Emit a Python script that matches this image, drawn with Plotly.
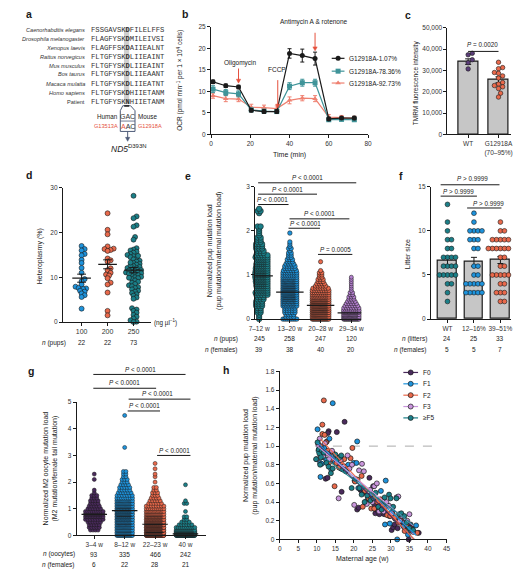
import numpy as np
import plotly.graph_objects as go

W, H = 529, 575
SANS = "Liberation Sans"
MONO = "Liberation Mono"
INK = "#1a1a1a"
TEAL = "#1b7f88"
BLUE = "#1e93dc"
SALMON = "#e9694b"
DPURP = "#4a2a5c"
LPURP = "#b47fcf"
H_F3 = "#c996dc"
RED = "#e5503d"
BOXC = "#4d5b78"
BARC = "#c6c6c6"

# ================= DATA =================
# a: ND5 alignment
a_species = ["Caenorhabditis elegans", "Drosophila melanogaster", "Xenopus laevis",
             "Rattus norvegicus", "Mus musculus", "Bos taurus", "Macaca mulatta",
             "Homo sapiens", "Patient"]
a_seq_left = ["FSSGAVSK", "FLAGFYSK", "FLAGFFSK", "FLTGFYSK", "FLTGFYSK",
              "FLTGFYSK", "FLTGFYSK", "FLTGFYSK", "FLTGFYSK"]
a_site = ["D", "D", "D", "D", "D", "D", "D", "D", "N"]
a_seq_right = ["FILELFFS", "MILEIVSI", "AIIEALNT", "LIIEAINT", "LIIEAINT",
               "LIIEAANT", "LIIEATNT", "HIIETANM", "HIIETANM"]

# b: Seahorse OCR
b_time = [1, 7.5, 14, 20.5, 27, 33.5, 40, 46.5, 53, 60, 66.5, 73]
b_names = ["G12918A-1.07%", "G12918A-78.36%", "G12918A-92.73%"]
b_low = [12.2, 11.3, 11.0, 5.6, 5.3, 5.3, 18.8, 18.3, 17.6, 3.6, 3.8, 3.8]
b_low_err = [0.4, 0.4, 0.4, 0.4, 0.4, 0.4, 1.1, 1.5, 1.5, 0.4, 0.3, 0.4]
b_mid = [10.5, 9.7, 9.4, 5.7, 5.4, 5.3, 11.2, 12.0, 12.0, 3.4, 3.5, 3.4]
b_mid_err = [0.8, 0.7, 0.7, 0.4, 0.4, 0.4, 0.8, 0.8, 0.8, 0.4, 0.4, 0.4]
b_high = [9.0, 8.3, 8.2, 6.3, 6.2, 6.0, 7.9, 8.4, 8.3, 4.0, 3.9, 3.7]
b_high_err = [0.6, 0.7, 0.6, 0.7, 0.6, 0.6, 0.8, 0.6, 0.7, 0.6, 0.5, 0.5]
b_injections = ["Oligomycin", "FCCP", "Antimycin A &amp; rotenone"]
b_inj_time = [14, 34, 53]

# c: TMRM
c_groups = ["WT", "G12918A<br>(70–95%)"]
c_mean = [34100, 25600]
c_sem = [1300, 1400]
c_wt = [38000, 37300, 35000, 33600, 30700]
c_mut = [33800, 31300, 30800, 29000, 28600, 27400, 26400, 24300, 23600,
         22900, 22300, 21500, 19300, 17500]
c_p = "<i>P</i> = 0.0020"

# d: heteroplasmy by injected dose
d_groups = ["100", "200", "250"]
d_n = ["22", "22", "73"]
d_100 = [17.0, 16.3, 16.0, 15.2, 14.9, 13.9, 13.2, 12.1, 11.0, 9.6, 9.1, 8.4,
         7.9, 7.6, 7.5, 7.4, 7.0, 6.8, 6.4, 6.0, 5.6, 3.0]
d_200 = [24.3, 20.6, 19.6, 16.9, 16.4, 16.3, 16.1, 15.9, 14.2, 13.8, 13.5, 12.0,
         11.6, 11.0, 10.6, 10.4, 9.8, 8.8, 8.4, 6.6, 2.5, 1.5]
d_250 = [28.2, 23.6, 23.2, 21.6, 21.3, 19.0, 18.4, 16.5, 16.2, 16.0, 15.7, 15.5,
         15.2, 15.0, 14.7, 14.5, 14.2, 14.0, 13.7, 13.5, 13.2, 13.0, 12.8, 12.5,
         12.3, 12.1, 12.0, 11.8, 11.6, 11.4, 11.2, 11.1, 11.0, 10.9, 10.7, 10.5,
         10.3, 10.1, 10.0, 9.8, 9.6, 9.3, 9.0, 8.8, 8.5, 8.2, 8.0, 7.8, 7.6, 7.3,
         7.0, 6.8, 6.5, 6.2, 5.9, 5.5, 5.2, 3.1, 2.8, 2.5, 2.1, 1.6, 1.2, 0.8,
         0.4, 0.1, 0.0, 12.6, 11.5, 10.8, 9.9, 14.8, 13.3]
d_mean = [9.8, 12.9, 11.6]
d_sem = [0.9, 1.0, 0.6]

# e: pup mutation load by maternal age (counts per 0.05 level)
e_groups = ["7–12 w", "13–20 w", "20–28 w", "29–34 w"]
e_n_pups = ["245", "258", "247", "120"]
e_n_fem = ["39", "38", "40", "20"]
e_levels = [0.0, 0.05, 0.1, 0.15, 0.2, 0.25, 0.3, 0.35, 0.4, 0.45, 0.5, 0.55, 0.6,
            0.65, 0.7, 0.75, 0.8, 0.85, 0.9, 0.95, 1.0, 1.05, 1.1, 1.15, 1.2, 1.25,
            1.3, 1.35, 1.4, 1.45, 1.5, 1.55, 1.6, 1.65, 1.7, 1.75, 1.8, 1.85, 1.9,
            1.95, 2.0, 2.05, 2.1, 2.15, 2.2, 2.25, 2.3, 2.35, 2.4, 2.45, 2.5]
e_cnt_1 = [1, 1, 1, 2, 2, 2, 3, 3, 3, 4, 4, 7, 8, 9, 9, 10, 10, 11, 11, 12, 12, 12,
           11, 11, 10, 10, 9, 9, 8, 7, 4, 4, 3, 3, 3, 2, 2, 2, 1, 1, 1, 1, 2, 0, 0,
           0, 0, 0, 1, 2, 1]
e_cnt_2 = [8, 4, 4, 5, 5, 5, 9, 10, 11, 12, 13, 14, 15, 15, 15, 14, 13, 13, 12, 8,
           7, 7, 6, 5, 5, 4, 3, 3, 2, 2, 2, 1, 2, 1, 1, 1, 0, 0, 0, 1]
e_cnt_3 = [19, 17, 17, 18, 19, 19, 19, 18, 17, 16, 11, 10, 9, 8, 7, 5, 4, 3, 3, 2,
           2, 2, 1, 0, 0, 0, 1]
e_cnt_4 = [25, 20, 15, 12, 9, 7, 6, 5, 4, 3, 3, 2, 2, 1, 1, 1, 1, 1, 1, 1]
e_median = [0.98, 0.61, 0.31, 0.14]
e_p = ["<i>P</i> < 0.0001", "<i>P</i> < 0.0001", "<i>P</i> < 0.0001",
       "<i>P</i> < 0.0001", "<i>P</i> < 0.0001", "<i>P</i> = 0.0005"]

# f: litter size
f_groups = ["WT", "12–16%", "39–51%"]
f_n_litters = ["24", "25", "33"]
f_n_fem = ["5", "5", "7"]
f_wt = [13, 11, 10, 9, 9, 8, 8, 7, 7, 7, 7, 6, 6, 6, 6, 5, 5, 5, 5, 5, 4, 4, 3, 2]
f_low = [12, 11, 10, 10, 10, 10, 9, 9, 9, 8, 8, 6, 6, 5, 5, 4, 4, 4, 4, 4, 3, 3, 3, 3, 3]
f_high = [11, 10, 10, 9, 9, 9, 9, 9, 9, 8, 8, 8, 8, 8, 8, 8, 8, 7, 7, 6, 6, 5, 5, 5,
          5, 5, 4, 4, 3, 3, 3, 2, 2]
f_mean = [6.6, 6.5, 6.7]
f_sem = [0.5, 0.5, 0.4]
f_p = ["<i>P</i> > 0.9999", "<i>P</i> > 0.9999", "<i>P</i> > 0.9999"]

# g: M2 oocyte mutation load (counts per level)
g_groups = ["3–4 w", "8–12 w", "22–23 w", "40 w"]
g_n_oocytes = ["93", "335", "466", "242"]
g_n_fem = ["6", "22", "28", "21"]
g_levels = [0.0, 0.1, 0.2, 0.3, 0.4, 0.5, 0.6, 0.7, 0.8, 0.9, 1.0, 1.1, 1.2, 1.3,
            1.4, 1.5, 1.6, 1.7, 1.8, 1.9, 2.0, 2.1, 2.2, 2.3, 2.4, 2.5, 2.6, 2.7,
            2.8, 2.9, 3.0, 3.1, 3.2, 3.3, 3.4, 3.5, 3.6, 3.7, 3.8, 3.9, 4.0, 4.1,
            4.2, 4.3, 4.4, 4.5]
g_cnt_1 = [0, 0, 4, 5, 5, 6, 8, 12, 15, 9, 6, 5, 4, 4, 3, 3, 1, 1, 0, 0, 0, 1, 0, 1]
g_cnt_2 = [18, 16, 17, 18, 19, 21, 23, 25, 31, 25, 22, 19, 17, 15, 8, 7, 6, 5, 5, 4,
           3, 3, 2, 2, 2, 0, 0, 0, 0, 0, 0, 0, 0, 1, 0, 0, 0, 0, 0, 0, 0, 0, 0, 0, 0, 1]
g_cnt_3 = [75, 63, 59, 52, 45, 38, 30, 24, 18, 14, 10, 8, 6, 5, 4, 3, 3, 2, 2, 0, 1,
           0, 1, 1, 0, 1, 0, 1]
g4_levels = [0.0, 0.03, 0.06, 0.1, 0.15, 0.2, 0.3, 0.4, 0.5, 0.6, 0.7, 0.9, 1.2, 1.3, 1.9]
g_cnt_4 = [55, 45, 38, 35, 20, 20, 10, 6, 4, 2, 2, 1, 2, 1, 1]
g_median = [0.79, 0.93, 0.42, 0.06]
g_p = ["<i>P</i> < 0.0001"] * 5

# h: pup mutation load vs maternal age by generation
h_names = ["F0", "F1", "F2", "F3", "≥F5"]
h_f0_age = [10.5, 11.2, 11.8, 12.4, 12.9, 13.2, 13.0, 12.7, 13.8, 14.2, 14.8, 15.4, 16.2,
            16.7, 17.0, 17.5, 18.0, 18.6, 20.2, 20.9, 21.3, 21.8, 22.2, 22.6, 24.2, 24.8,
            25.2, 25.6, 25.8, 26.4, 26.9, 27.5, 28.2, 28.9, 29.6, 30.2, 30.6, 31.0, 31.8,
            32.5, 33.2, 34.0, 34.8, 35.3, 35.7, 37.5]
h_f0_val = [0.95, 0.90, 0.88, 0.65, 0.66, 1.16, 1.14, 1.05, 0.93, 0.90, 0.86, 1.15, 0.88,
            0.51, 0.75, 1.26, 0.78, 0.76, 0.63, 0.32, 0.34, 0.53, 0.52, 0.50, 0.66, 0.45,
            0.57, 0.37, 0.28, 0.31, 0.27, 0.38, 0.27, 0.28, 0.25, 0.10, 0.13, 0.16, 0.12,
            0.20, 0.18, 0.14, 0.00, 0.16, 0.12, 0.07]
h_f1_age = [10.2, 10.6, 10.9, 11.0, 11.3, 11.6, 12.0, 12.6, 13.4, 13.9, 14.3, 14.6, 15.2,
            16.0, 16.5, 17.2, 17.8, 18.5, 20.0, 20.7, 20.9, 21.2, 22.5, 23.1, 23.8, 24.6,
            26.0, 27.3, 28.0, 28.4, 28.6, 29.7, 30.4, 31.2, 31.7, 32.8, 33.4, 34.6, 35.2, 36.8]
h_f1_val = [1.18, 0.97, 0.82, 0.67, 0.81, 0.92, 0.98, 0.85, 1.08, 0.75, 1.46, 0.84, 0.88,
            0.80, 0.76, 0.78, 0.74, 0.80, 0.82, 0.82, 1.05, 0.55, 0.55, 0.40, 0.44, 0.48,
            0.42, 0.52, 0.36, 0.16, 0.63, 0.17, 0.30, 0.22, 0.00, 0.20, 0.14, 0.05, 0.10, 0.15]
h_f2_age = [11.0, 11.5, 11.5, 11.9, 12.1, 12.5, 13.0, 13.5, 13.9, 14.4, 14.8, 15.3, 16.0,
            16.8, 17.4, 18.2, 19.1, 19.6, 20.3, 21.0, 22.1, 22.4, 23.0, 24.0, 24.7, 25.5,
            26.3, 27.2, 27.8, 28.3, 29.0, 29.8, 30.5, 31.0, 32.0, 32.6, 33.7, 34.2, 35.3, 37.1]
h_f2_val = [1.00, 1.23, 1.13, 1.49, 1.12, 1.04, 0.95, 0.83, 0.86, 0.92, 0.57, 0.82, 0.77,
            0.80, 0.86, 0.75, 0.87, 0.98, 0.62, 0.64, 0.68, 0.35, 0.52, 0.44, 0.33, 0.33,
            0.40, 0.43, 0.36, 0.33, 0.26, 0.25, 0.27, 0.23, 0.18, 0.22, 0.09, 0.16, 0.12, 0.07]
h_f3_age = [10.0, 10.4, 10.8, 11.3, 11.7, 12.2, 12.8, 13.3, 14.1, 14.7, 15.9, 16.4, 17.2,
            18.3, 18.8, 19.5, 20.1, 21.4, 22.2, 22.7, 23.5, 24.4, 25.0, 25.5, 26.2, 26.8,
            27.5, 28.0, 28.8, 29.5, 30.2, 31.5, 32.0, 32.4, 33.0, 33.8, 34.4, 35.0, 35.5, 36.0]
h_f3_val = [0.86, 1.02, 1.08, 0.97, 0.89, 1.03, 0.92, 0.86, 0.95, 0.90, 0.44, 0.85, 0.78,
            0.90, 0.76, 0.80, 0.37, 0.74, 0.81, 0.73, 0.38, 0.53, 0.40, 0.57, 0.60, 0.30,
            0.33, 0.30, 0.40, 0.36, 0.28, 0.45, 0.46, 0.20, 0.25, 0.18, 0.20, 0.27, 0.10, 0.08]
h_f5_age = [9.8, 10.2, 10.5, 10.7, 10.9, 11.1, 11.4, 11.9, 12.6, 13.2, 13.8, 14.3, 15.0,
            15.5, 16.2, 16.6, 17.1, 17.8, 19.4, 20.3, 21.5, 22.1, 22.9, 23.6, 24.5, 25.3,
            25.9, 26.6, 27.5, 28.3, 29.5, 29.9, 30.6, 31.5, 32.2, 32.8, 33.6, 34.2, 35.0, 36.0]
h_f5_val = [0.86, 1.04, 0.96, 0.92, 0.80, 0.88, 0.95, 0.93, 0.82, 0.78, 0.71, 0.76, 0.91,
            0.86, 0.88, 0.90, 0.75, 0.73, 0.55, 0.65, 0.55, 0.48, 0.40, 0.47, 0.42, 0.44,
            0.50, 0.35, 0.32, 0.45, 0.48, 0.44, 0.35, 0.44, 0.27, 0.28, 0.25, 0.18, 0.12, 0.10]
h_yticks = [0, 0.2, 0.4, 0.6, 0.8, 1.0, 1.2, 1.4, 1.6, 1.8]
h_yticktext = ["0", "0.2", "0.4", "0.6", "0.8", "1.0", "1.2", "1.4", "1.6", "1.8"]

# ================= FIGURE =================
fig = go.Figure()
PPU = {}
GEOM = {}


def make_axes(k, xpx, ypx, xr, yr, xkw=None, ykw=None):
    xn = "xaxis" if k == 1 else f"xaxis{k}"
    yn = "yaxis" if k == 1 else f"yaxis{k}"
    xref = "x" if k == 1 else f"x{k}"
    yref = "y" if k == 1 else f"y{k}"
    base = dict(showline=True, linecolor=INK, linewidth=1, ticks="outside", ticklen=3,
                tickwidth=1, tickcolor=INK, showgrid=False, zeroline=False, fixedrange=True,
                tickfont=dict(family=SANS, size=6.5, color="#333"))
    xa = dict(base, domain=[xpx[0] / W, xpx[1] / W], range=xr, anchor=yref)
    ya = dict(base, domain=[1 - ypx[1] / H, 1 - ypx[0] / H], range=yr, anchor=xref)
    if xkw:
        xa.update(xkw)
    if ykw:
        ya.update(ykw)
    fig.update_layout({xn: xa, yn: ya})
    PPU[k] = ((xpx[1] - xpx[0]) / (xr[1] - xr[0]), (ypx[1] - ypx[0]) / (yr[1] - yr[0]))
    GEOM[k] = (xpx, ypx, xr, yr)
    return xref, yref


def to_px(k, x, y):
    xpx, ypx, xr, yr = GEOM[k]
    return (xpx[0] + (x - xr[0]) * PPU[k][0], ypx[1] - (y - yr[0]) * PPU[k][1])


def txt(x, y, s, size=6.5, color=INK, xanchor="center", yanchor="middle", angle=0,
        family=SANS, weight="normal"):
    fig.add_annotation(x=x, y=y, xref="x8", yref="y8", text=s, showarrow=False,
                       font=dict(size=size, color=color, family=family, weight=weight),
                       xanchor=xanchor, yanchor=yanchor, textangle=angle,
                       borderpad=0)


def pline(x0, x1, y0, y1, color=INK, width=1, dash=None):
    fig.add_shape(type="line", xref="x8", yref="y8", x0=x0, x1=x1, y0=y0, y1=y1,
                  line=dict(color=color, width=width, dash=dash))


def down_arrow(x, ytail, ytip, color, width=1):
    pline(x, x, ytail, ytip - 3, color=color, width=width)
    fig.add_shape(type="path", xref="x8", yref="y8",
                  path=f"M {x - 2.2} {ytip - 4} L {x + 2.2} {ytip - 4} L {x} {ytip} Z",
                  fillcolor=color, line=dict(color=color, width=0.5))


def rows_layout(levels, counts, step_px, maxw_px):
    vals, offs = [], []
    for lv, k in zip(levels, counts):
        if k <= 0:
            continue
        st = step_px if (k == 1 or (k - 1) * step_px <= maxw_px) else maxw_px / (k - 1)
        for i in range(k):
            vals.append(lv)
            offs.append((i - (k - 1) / 2) * st)
    return vals, offs


def swarm_layout(values, ppu_y, mind):
    ys = [v * ppu_y for v in values]
    order = sorted(range(len(values)), key=lambda i: ys[i])
    cands = [0.0]
    for s in range(1, 120):
        cands += [s * mind / 2, -s * mind / 2]
    placed, offs = [], [0.0] * len(values)
    for i in order:
        y = ys[i]
        near = [(px, py) for px, py in placed if abs(py - y) < mind]
        chosen = 0.0
        for c in cands:
            if all((c - px) ** 2 + (y - py) ** 2 >= mind * mind - 1e-9 for px, py in near):
                chosen = c
                break
        offs[i] = chosen
        placed.append((chosen, y))
    return offs


def dots(k, cat, vals, offs_px, color, size, line_w=0.6):
    xref = "x" if k == 1 else f"x{k}"
    yref = "y" if k == 1 else f"y{k}"
    ppx = PPU[k][0]
    fig.add_trace(go.Scatter(
        x=[cat + o / ppx for o in offs_px], y=vals, mode="markers", xaxis=xref, yaxis=yref,
        marker=dict(size=size, color=color, line=dict(color=INK, width=line_w)),
        showlegend=False, cliponaxis=False, hoverinfo="skip"))


def mean_bar(k, cat, m, half_px, sem=None, cap_px=None, width=1.2):
    xref = "x" if k == 1 else f"x{k}"
    yref = "y" if k == 1 else f"y{k}"
    ppx = PPU[k][0]
    fig.add_shape(type="line", xref=xref, yref=yref, x0=cat - half_px / ppx,
                  x1=cat + half_px / ppx, y0=m, y1=m, line=dict(color=INK, width=width))
    if sem is not None:
        fig.add_shape(type="line", xref=xref, yref=yref, x0=cat, x1=cat, y0=m - sem,
                      y1=m + sem, line=dict(color=INK, width=1))
        for yy in (m - sem, m + sem):
            fig.add_shape(type="line", xref=xref, yref=yref, x0=cat - cap_px / ppx,
                          x1=cat + cap_px / ppx, y0=yy, y1=yy, line=dict(color=INK, width=1))


# overlay pixel-space axis (for text, legends, diagram)
fig.update_layout(
    xaxis8=dict(domain=[0, 1], range=[0, W], visible=False, fixedrange=True, anchor="y8"),
    yaxis8=dict(domain=[0, 1], range=[H, 0], visible=False, fixedrange=True, anchor="x8"))

# ---------------- panel a ----------------
fig.add_shape(type="rect", xref="x8", yref="y8", x0=120.2, x1=125.6, y0=23.5, y1=101.5,
              fillcolor="#cfcfcf", line=dict(width=0), layer="below")
a_rows = [26.7, 35.7, 44.3, 53.3, 62.3, 71.3, 80.7, 90.0, 99.7]
for i, sp in enumerate(a_species):
    lab = sp if sp == "Patient" else f"<i>{sp}</i>"
    txt(82, a_rows[i], lab, size=5.6, xanchor="right", color="#333")
    txt(86, a_rows[i], f"{a_seq_left[i]}<b>{a_site[i]}</b>{a_seq_right[i]}", size=7.2,
        xanchor="left", family=MONO, color="#333")
fig.add_shape(type="path", xref="x8", yref="y8",
              path="M 119 103 L 127 103 L 131.5 108 L 131.5 129 L 116.5 129 L 116.5 108 Z",
              line=dict(color=BOXC, width=1))
pline(116.5, 131.5, 118.5, 118.5, color=BOXC, width=0.8)
pline(120.5, 125.5, 103.2, 103.2, color=INK, width=1.5)
down_arrow(124, 129, 139, BOXC)
txt(124, 113.5, "GAC", size=7, color="#333")
txt(124, 124, f"<span style='color:{RED}'>A</span>AC", size=7, color="#333")
txt(115, 113.5, "Human", size=6.3, xanchor="right")
txt(133.5, 113.5, "Mouse", size=6.3, xanchor="left")
txt(115, 124, "G13513A", size=5.6, xanchor="right", color=RED)
txt(133.5, 124, "G12918A", size=5.6, xanchor="left", color=RED)
txt(125, 146, "<i>ND5</i><sup>D393N</sup>", size=8.5)

# ---------------- panel b ----------------
xb, yb = make_axes(1, (209, 369), (23, 132), [0, 80], [0, 25],
                   xkw=dict(tickvals=[0, 20, 40, 60, 80]),
                   ykw=dict(tickvals=[0, 5, 10, 15, 20, 25]))
b_series = [(b_low, b_low_err, INK, "circle"), (b_mid, b_mid_err, "#3f9499", "square"),
            (b_high, b_high_err, "#ef8171", "triangle-up")]
for vals, errs, col, sym in reversed(b_series):
    fig.add_trace(go.Scatter(
        x=b_time, y=vals, mode="lines+markers", xaxis=xb, yaxis=yb,
        line=dict(color=col, width=1.2), marker=dict(symbol=sym, size=5, color=col),
        error_y=dict(type="data", array=errs, color=col, thickness=1, width=2),
        showlegend=False, cliponaxis=False, hoverinfo="skip"))
for t, ytip, ytail in zip(b_inj_time, [11.9, 6.1, 19.4], [15.3, 12.6, 23.6]):
    px0, py_tail = to_px(1, t, ytail)
    _, py_tip = to_px(1, t, ytip)
    down_arrow(px0, py_tail, py_tip, RED)
for s, (tx, ty) in zip(b_injections, [(239, 59.5), (276, 66.5), (314, 18.5)]):
    txt(tx, ty, s, size=6.5)
txt(289, 153, "Time (min)", size=7)
txt(177, 77, "OCR (pmol min<sup>−1</sup> per 1 × 10<sup>4</sup> cells)", size=6.5, angle=-90)
leg_rows = [55, 68, 80]
for (vals, errs, col, sym), nm, ry in zip(b_series, b_names, leg_rows):
    fig.add_trace(go.Scatter(x=[332, 345], y=[ry, ry], mode="lines", xaxis="x8", yaxis="y8",
                             line=dict(color=col, width=1.2), showlegend=False, hoverinfo="skip"))
    fig.add_trace(go.Scatter(x=[338.5], y=[ry], mode="markers", xaxis="x8", yaxis="y8",
                             marker=dict(symbol=sym, size=5, color=col),
                             showlegend=False, hoverinfo="skip"))
    txt(349, ry, nm, size=6.5, xanchor="left")

# ---------------- panel c ----------------
xc, yc = make_axes(2, (450, 515), (24, 132), [-0.68, 1.42], [0, 50000],
                   xkw=dict(tickvals=[0, 1], ticktext=c_groups),
                   ykw=dict(tickvals=[0, 10000, 20000, 30000, 40000, 50000], tickformat=","))
fig.add_trace(go.Bar(x=[0, 1], y=c_mean, width=0.65, xaxis=xc, yaxis=yc,
                     marker=dict(color=BARC, line=dict(color=INK, width=1.2)),
                     error_y=dict(type="data", array=c_sem, color=INK, thickness=1, width=3),
                     showlegend=False, hoverinfo="skip"))
dots(2, 0, c_wt, swarm_layout(c_wt, PPU[2][1], 4.2), "#5a3d78", 4.5)
dots(2, 1, c_mut, swarm_layout(c_mut, PPU[2][1], 4.2), SALMON, 4.5)
pline(471, 502, 48, 48)
txt(486, 41.5, c_p, size=6.3)
txt(418, 80, "TMRM fluorescence intensity", size=6.5, angle=-90)

# ---------------- panel d ----------------
xd, yd = make_axes(3, (58, 148), (186, 322), [-0.72, 2.68], [0, 30],
                   xkw=dict(tickvals=[0, 1, 2], ticktext=d_groups,
                            tickfont=dict(family=SANS, size=7, color="#333")),
                   ykw=dict(tickvals=[0, 10, 20, 30]))
for cat, vals, col in [(0, d_100, BLUE), (1, d_200, SALMON), (2, d_250, TEAL)]:
    dots(3, cat, vals, swarm_layout(vals, PPU[3][1], 3.1), col, 5)
for cat in range(3):
    mean_bar(3, cat, d_mean[cat], 9.5, d_sem[cat], 4.5, width=1.3)
txt(150, 322, "(ng µl<sup>−1</sup>)", size=6.3, xanchor="left")
txt(35, 255, "Heteroplasmy (%)", size=7, angle=-90)
txt(62, 343, "<i>n</i> (pups)", size=6.5, xanchor="right")
for cat, s in enumerate(d_n):
    txt(77 + cat * 26.5, 343, s, size=6.5)

# ---------------- panel e ----------------
xe, ye = make_axes(4, (254, 362), (185, 319), [-0.128, 3.32], [0, 3],
                   xkw=dict(tickvals=[0, 1, 2, 3], ticktext=e_groups),
                   ykw=dict(tickvals=[0, 1, 2, 3]))
for cat, cnts, col, step, mw, sz in [(0, e_cnt_1, TEAL, 3.0, 17, 5.5),
                                       (1, e_cnt_2, BLUE, 2.6, 14, 4.5),
                                       (2, e_cnt_3, SALMON, 2.6, 17, 4.3),
                                       (3, e_cnt_4, LPURP, 2.6, 16, 4.0)]:
    v, o = rows_layout(e_levels, cnts, step, mw)
    dots(4, cat, v, o, col, sz, line_w=0.55)
for cat in range(4):
    mean_bar(4, cat, e_median[cat], 14)
txt(213, 250, "Normalized pup mutation load<br>(pup mutation/maternal mutation load)",
    size=7, angle=-90)
txt(237, 339, "<i>n</i> (pups)", size=6.5, xanchor="right")
txt(237, 350, "<i>n</i> (females)", size=6.5, xanchor="right")
for cat in range(4):
    cx = 258 + cat * 31.33
    txt(cx, 339, e_n_pups[cat], size=6.5)
    txt(cx, 350, e_n_fem[cat], size=6.5)
for (x0, x1, yl, tx), s in zip([(257, 357, 181, 307), (257, 317, 192.5, 287),
                                (257, 288, 203, 272), (289, 350, 217.5, 320),
                                (288, 320, 227, 305), (318, 353, 253.5, 336)], e_p):
    pline(x0, x1, yl, yl)
    txt(tx, yl - 5, s, size=6.3)

# ---------------- panel f ----------------
xf, yf = make_axes(5, (433, 515), (185, 319), [-0.63, 2.41], [0, 15],
                   xkw=dict(tickvals=[0, 1, 2], ticktext=f_groups),
                   ykw=dict(tickvals=[0, 5, 10, 15]))
fig.add_trace(go.Bar(x=[0, 1, 2], y=f_mean, width=0.7, xaxis=xf, yaxis=yf,
                     marker=dict(color=BARC, line=dict(color=INK, width=1.2)),
                     error_y=dict(type="data", array=f_sem, color=INK, thickness=1, width=3),
                     showlegend=False, hoverinfo="skip"))
for cat, vals, col in [(0, f_wt, TEAL), (1, f_low, BLUE), (2, f_high, SALMON)]:
    dots(5, cat, vals, swarm_layout(vals, PPU[5][1], 4.1), col, 4.8)
txt(410, 253, "Litter size", size=7, angle=-90)
txt(430, 339, "<i>n</i> (litters)", size=6.5, xanchor="right")
txt(430, 350, "<i>n</i> (females)", size=6.5, xanchor="right")
for cat in range(3):
    cx = 450 + cat * 27
    txt(cx, 339, f_n_litters[cat], size=6.5)
    txt(cx, 350, f_n_fem[cat], size=6.5)
for (x0, x1, yl, tx, ty), s in zip([(443, 503, 183, 475, 176.5), (443, 480, 194.5, 461, 190),
                                    (470, 505, 206.5, 492, 202)], f_p):
    pline(x0, x1, yl, yl)
    txt(tx, ty, s, size=6.3)

# ---------------- panel g ----------------
xg, yg = make_axes(6, (72, 204), (403, 538), [-0.58, 3.68], [0, 5],
                   xkw=dict(tickvals=[0, 1, 2, 3], ticktext=g_groups),
                   ykw=dict(tickvals=[0, 1, 2, 3, 4, 5]))
for cat, lv, cnts, col, mw in [(0, g_levels, g_cnt_1, DPURP, 18),
                                 (1, g_levels, g_cnt_2, BLUE, 16),
                                 (2, g_levels, g_cnt_3, SALMON, 18),
                                 (3, g4_levels, g_cnt_4, TEAL, 19)]:
    v, o = rows_layout(lv, cnts, 2.6, mw)
    dots(6, cat, v, o, col, 4.0, line_w=0.5)
for cat in range(4):
    mean_bar(6, cat, g_median[cat], 13)
txt(45, 470, "Normalized M2 oocyte mutation load<br>(M2 mutation/female tail mutation)",
    size=7, angle=-90)
txt(71, 557, "<i>n</i> (oocytes)", size=6.5, xanchor="right")
txt(71, 567.5, "<i>n</i> (females)", size=6.5, xanchor="right")
for cat in range(4):
    cx = 90 + cat * 31
    txt(cx, 557, g_n_oocytes[cat], size=6.5)
    txt(cx, 567.5, g_n_fem[cat], size=6.5)
for (x0, x1, yl, tx), s in zip([(89, 183, 375, 137), (89, 153, 389, 121),
                                (125, 188, 400, 154), (124, 157, 412, 141),
                                (154, 188, 457, 172)], g_p):
    pline(x0, x1, yl, yl)
    txt(tx, yl - 5.5, s, size=6.3)

# ---------------- panel h ----------------
xh, yh = make_axes(7, (279, 449), (372, 542), [0, 45], [0, 1.8],
                   xkw=dict(tickvals=[0, 5, 10, 15, 20, 25, 30, 35, 40, 45]),
                   ykw=dict(tickvals=h_yticks, ticktext=h_yticktext))
fig.add_shape(type="line", xref=xh, yref=yh, x0=9.5, x1=41.7, y0=1.0, y1=1.0,
              line=dict(color="#a0a0a0", width=0.9, dash="dash"), layer="below")
h_sets = [(h_f0_age, h_f0_val, DPURP), (h_f1_age, h_f1_val, BLUE),
          (h_f2_age, h_f2_val, SALMON), (h_f3_age, h_f3_val, H_F3),
          (h_f5_age, h_f5_val, TEAL)]
for ages, vals, col in h_sets:
    fig.add_trace(go.Scatter(x=ages, y=vals, mode="markers", xaxis=xh, yaxis=yh,
                             marker=dict(size=5, color=col, line=dict(color=INK, width=0.7)),
                             showlegend=False, cliponaxis=False, hoverinfo="skip"))
for ages, vals, col in h_sets:
    slope, icpt = np.polyfit(ages, vals, 1)
    xs = np.array([min(ages), min(max(ages), -icpt / slope)])
    fig.add_trace(go.Scatter(x=xs, y=slope * xs + icpt, mode="lines", xaxis=xh, yaxis=yh,
                             line=dict(color=col, width=1.1), showlegend=False,
                             hoverinfo="skip"))
txt(249, 457, "Normalized pup mutation load<br>(pup mutation/maternal mutation load)",
    size=7, angle=-90)
txt(363, 562, "Maternal age (w)", size=7)
h_leg_rows = [373, 384.5, 396, 407.5, 419]
for (ages, vals, col), nm, ry in zip(h_sets, h_names, h_leg_rows):
    fig.add_trace(go.Scatter(x=[405, 420], y=[ry, ry], mode="lines", xaxis="x8", yaxis="y8",
                             line=dict(color=col, width=1.2), showlegend=False, hoverinfo="skip"))
    fig.add_trace(go.Scatter(x=[412.5], y=[ry], mode="markers", xaxis="x8", yaxis="y8",
                             marker=dict(size=5, color=col, line=dict(color=INK, width=0.7)),
                             showlegend=False, hoverinfo="skip"))
    txt(424, ry, nm, size=6.5, xanchor="left")

# ---------------- panel letters ----------------
for lab, lx, ly in [("a", 23, 10), ("b", 182, 10), ("c", 410, 11), ("d", 23, 173),
                    ("e", 185, 174), ("f", 403, 174), ("g", 25, 372), ("h", 224, 371)]:
    txt(lx, ly, lab, size=10.5, xanchor="center", weight="bold")

fig.update_layout(width=W, height=H, margin=dict(l=0, r=0, t=0, b=0),
                  paper_bgcolor="white", plot_bgcolor="rgba(0,0,0,0)",
                  font=dict(family=SANS, size=6.5, color=INK), showlegend=False,
                  bargap=0)
fig.write_html("out.html", config={"displayModeBar": False},
               post_script="document.body.style.margin='0px';"
                           "document.body.style.overflow='hidden';")
